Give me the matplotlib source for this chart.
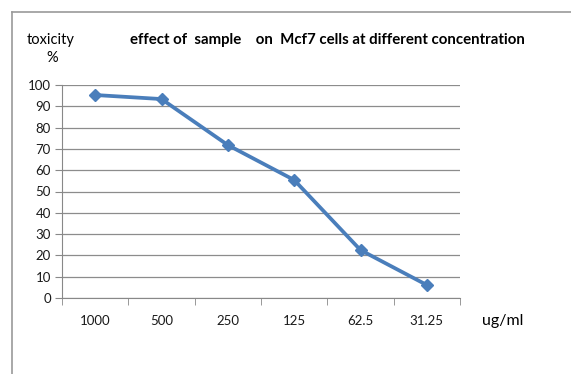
import matplotlib
matplotlib.use("Agg")
import matplotlib.pyplot as plt
from matplotlib.lines import Line2D

# concentrations (ug/ml) and toxicity (%)
concentrations = ["1000", "500", "250", "125", "62.5", "31.25"]
toxicity = [95.3, 93.4, 71.8, 55.4, 22.5, 6.1]
y_ticks = list(range(0, 101, 10))

plt.rcParams['font.family'] = ['Lato', 'DejaVu Sans']

fig = plt.figure(figsize=(5.71, 3.74), dpi=100)
ax = fig.add_axes([62 / 571, 1 - 298 / 374, 398 / 571, 213 / 374])

x = range(len(concentrations))
ax.plot(x, toxicity, color='#4a7ebb', lw=2.7, marker='D', ms=6.5, zorder=3)

ax.set_xlim(-0.5, len(concentrations) - 0.5)
ax.set_ylim(0, 100)
ax.set_yticks(y_ticks)
ax.set_xticks(list(x))
ax.set_xticklabels(concentrations)
ax.set_xticks([i - 0.5 for i in range(len(concentrations) + 1)], minor=True)
ax.tick_params(axis='x', which='major', length=0, pad=12, labelsize=9.5, colors='#1a1a1a')
ax.tick_params(axis='x', which='minor', length=5, color='#888888', direction='out')
ax.tick_params(axis='y', length=5, color='#888888', pad=3, labelsize=9.5, labelcolor='#1a1a1a')
ax.grid(axis='y', color='#8c8c8c', lw=0.9)
ax.set_axisbelow(True)
for side in ['top', 'right']:
    ax.spines[side].set_visible(False)
for side in ['left', 'bottom']:
    ax.spines[side].set_color('#888888')

fig.text(27 / 571, 1 - 40 / 374, "toxicity", fontsize=10.5, va='center', ha='left')
fig.text(52 / 571, 1 - 58 / 374, "%", fontsize=10.5, va='center', ha='center')
fig.text(130 / 571, 1 - 40 / 374, "effect of  sample    on  Mcf7 cells at different concentration",
         fontsize=10.8, fontweight='bold', va='center', ha='left')
fig.text(482 / 571, 1 - 321 / 374, "ug/ml", fontsize=11.5, va='center', ha='left')

# outer frame (left and top edges only)
fig.add_artist(Line2D([12 / 571, 12 / 571], [0, 1 - 12 / 374], transform=fig.transFigure,
                      color='#9a9a9a', lw=1.2))
fig.add_artist(Line2D([12 / 571, 1], [1 - 12 / 374, 1 - 12 / 374], transform=fig.transFigure,
                      color='#9a9a9a', lw=1.2))

fig.savefig("out.png", dpi=100)
